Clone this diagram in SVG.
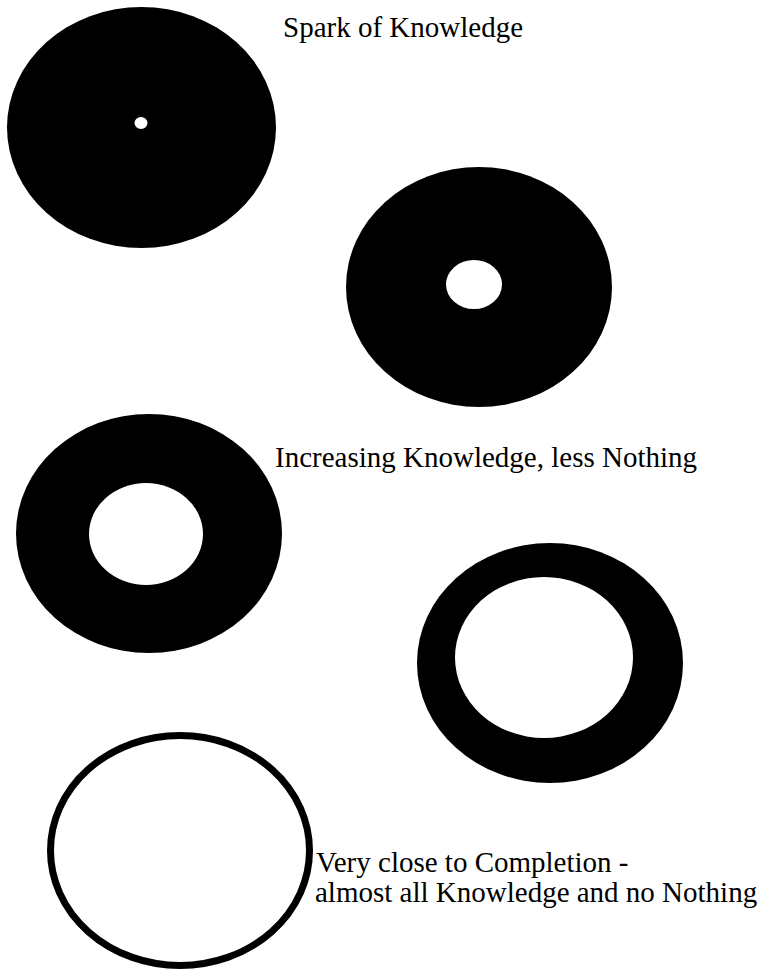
<svg xmlns="http://www.w3.org/2000/svg" width="766" height="972" viewBox="0 0 766 972">
<style>
.disc{fill:#000}
.hole{fill:#fff}
.ring{fill:#fff;stroke:#000;stroke-width:7}
.lbl{font-family:"Liberation Serif","Times New Roman",serif;font-size:29px;fill:#000}
</style>
<rect width="766" height="972" fill="#fff"/>
<g id="stage1">
<ellipse class="disc" cx="141.5" cy="127.5" rx="134.5" ry="120.5"/>
<ellipse class="hole" cx="141" cy="123" rx="6.5" ry="6"/>
</g>
<g id="label1"><text class="lbl" x="283" y="37">Spark of Knowledge</text></g>
<g id="stage2">
<ellipse class="disc" cx="479" cy="287" rx="133" ry="120"/>
<ellipse class="hole" cx="474" cy="284.5" rx="28" ry="24.5"/>
</g>
<g id="stage3">
<ellipse class="disc" cx="149" cy="533.5" rx="133" ry="119.5"/>
<ellipse class="hole" cx="146" cy="534" rx="57" ry="51"/>
</g>
<g id="label2"><text class="lbl" x="275" y="467">Increasing Knowledge, less Nothing</text></g>
<g id="stage4">
<ellipse class="disc" cx="550" cy="663" rx="133" ry="120"/>
<ellipse class="hole" cx="544" cy="657.5" rx="89" ry="80.5"/>
</g>
<g id="stage5">
<ellipse class="ring" cx="180" cy="850.5" rx="129.5" ry="115"/>
</g>
<g id="label3">
<text class="lbl" x="316" y="872">Very close to Completion -</text>
<text class="lbl" x="315" y="902">almost all Knowledge and no Nothing</text>
</g>
<g id="connectors"/>
</svg>
